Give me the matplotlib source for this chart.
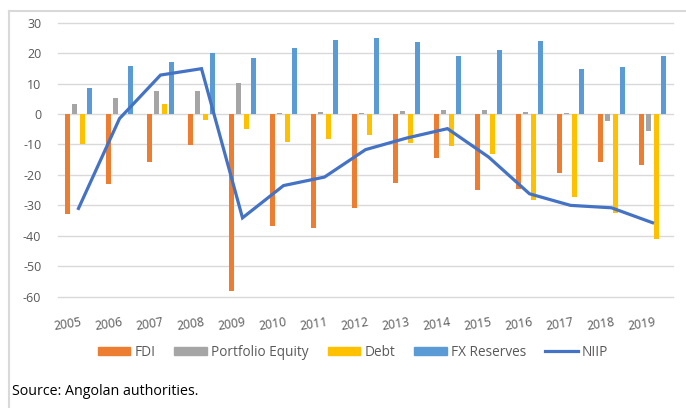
import numpy as np
import matplotlib.pyplot as plt
from matplotlib.lines import Line2D
from matplotlib.patches import Patch

plt.rcParams['font.family'] = ['Open Sans', 'DejaVu Sans']
plt.rcParams['axes.unicode_minus'] = False

# Angola international investment position, % of GDP
years = [str(y) for y in range(2005, 2020)]
fdi = [-32.8, -22.9, -15.6, -10.2, -58.0, -36.8, -37.5, -30.8, -22.7, -14.4,
       -24.9, -24.5, -19.4, -15.9, -16.9]
portfolio = [3.4, 5.3, 7.5, 7.5, 10.1, 0.3, 0.7, 0.3, 0.9, 1.2,
             1.2, 0.6, 0.3, -2.3, -5.7]
debt = [-10.0, 0.0, 3.4, -1.9, -4.8, -9.3, -8.2, -6.8, -9.5, -10.6,
        -13.0, -28.1, -27.3, -32.6, -41.2]
fx_reserves = [8.7, 15.7, 17.1, 19.9, 18.4, 21.8, 24.3, 25.0, 23.7, 19.2,
               21.0, 24.0, 14.9, 15.3, 19.2]
niip = [-31.0, -1.5, 12.8, 14.9, -34.1, -23.5, -20.7, -11.7, -7.9, -4.8,
        -14.1, -26.2, -30.0, -30.8, -35.7]

series = [
    ('FDI', fdi, '#ED7D31'),
    ('Portfolio Equity', portfolio, '#A5A5A5'),
    ('Debt', debt, '#FFC000'),
    ('FX Reserves', fx_reserves, '#5B9BD5'),
]
line_color = '#4472C4'
text_color = '#595959'

fig = plt.figure(figsize=(6.86, 4.08), dpi=100)
ax = fig.add_axes([58 / 686, 1 - 296.7 / 408, (673 - 58) / 686, (296.7 - 22.7) / 408])

x = np.arange(len(years))
offsets = [-0.275, -0.092, 0.092, 0.275]
for (name, vals, color), off in zip(series, offsets):
    ax.bar(x + off, vals, width=0.115, color=color, zorder=2)

ax.plot(x, niip, color=line_color, linewidth=2.3, solid_joinstyle='miter', zorder=3)

ax.set_xlim(-0.5, len(years) - 0.5)
ax.set_ylim(-60, 30)
ax.set_yticks(range(-60, 31, 10))
ax.grid(axis='y', color='#D9D9D9', linewidth=1.0, zorder=0)
for gl in ax.yaxis.get_gridlines():
    gl.set_clip_on(False)
for s in ax.spines.values():
    s.set_visible(False)
ax.tick_params(length=0)
ax.tick_params(axis='y', labelsize=9, labelcolor=text_color, pad=12)
ax.set_xticks(x + 0.05)
ax.set_xticklabels(years, rotation=9, ha='right', rotation_mode='anchor',
                   fontsize=8.8, color=text_color)
ax.tick_params(axis='x', pad=14)

handles = [Patch(color=c, label=n) for n, _, c in series]
handles.append(Line2D([0], [0], color=line_color, linewidth=2.3, label='NIIP'))
fig.legend(handles=handles, loc='center', bbox_to_anchor=(353 / 686, 1 - 352 / 408),
           ncol=5, frameon=False, fontsize=9.8, labelcolor=text_color,
           handlelength=2.4, handleheight=0.5, handletextpad=0.3, columnspacing=1.4)

fig.text(12 / 686, 1 - 391.5 / 408, 'Source: Angolan authorities.', fontsize=10.3,
         color='black', va='center')

# light frame around the chart block
fig.add_artist(Line2D([9 / 686, 1.0], [1 - 10.7 / 408] * 2, transform=fig.transFigure,
                      color='#D9D9D9', linewidth=1.5))
fig.add_artist(Line2D([9 / 686] * 2, [0.0, 1 - 10.7 / 408], transform=fig.transFigure,
                      color='#D9D9D9', linewidth=1.5))

fig.savefig('out.png', dpi=100)
